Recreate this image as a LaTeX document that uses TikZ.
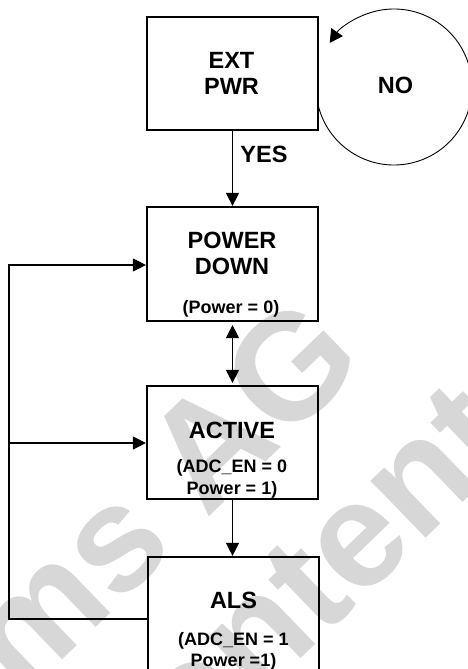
\documentclass[tikz,border=0pt]{standalone}
\usepackage{fontspec}
\setmainfont{Liberation Sans}
\usetikzlibrary{arrows.meta,calc}
\definecolor{wmgray}{RGB}{215,215,215}
\begin{document}
\begin{tikzpicture}[x=1pt,y=-1pt,
  box/.style={draw,line width=2.2pt,minimum width=171pt,minimum height=113pt,inner sep=0pt},
  maintxt/.style={inner sep=0pt,anchor=base,font=\fontsize{23.5}{28}\selectfont\bfseries},
  subtxt/.style={inner sep=0pt,anchor=base,font=\fontsize{18}{22}\selectfont\bfseries},
  wm/.style={inner sep=0pt,anchor=base,rotate=44,text=wmgray,font=\fontsize{150}{150}\selectfont\bfseries},
  tip/.tip={Triangle[length=13pt,width=13pt]},
  conn/.style={line width=1.1pt,-tip},
  biconn/.style={line width=1.1pt,tip-tip},
  loopline/.style={line width=0.9pt,-{Triangle[length=13pt,width=14pt]}}]
\useasboundingbox (0,0) rectangle (468,669);
\fill[white] (0,0) rectangle (468,669);
\clip (0,0) rectangle (468,669);
% watermark
\node[wm] (wm1) at (165,560.3) {ams AG};
\node[wm] (wm2) at (325.7,635.4) {content};
% boxes
\node[box] (ext) at (232.5,73.5) {};
\node[box,minimum height=114pt] (pd) at (232.5,264) {};
\node[box] (act) at (232.5,442.5) {};
\node[box,minimum height=114pt] (als) at (233.5,614) {};
% texts
\node[maintxt] (extA) at (231.5,68) {EXT};
\node[maintxt] (extB) at (231.5,94) {PWR};
\node[maintxt] (no) at (395.5,93) {NO};
\node[maintxt] (yes) at (264,162) {YES};
\node[maintxt] (pdA) at (232,248) {POWER};
\node[maintxt] (pdB) at (232,274.5) {DOWN};
\node[subtxt] (pdC) at (231,313) {(Power = 0)};
\node[maintxt] (actA) at (232,438) {ACTIVE};
\node[subtxt] (actB) at (232,472.3) {(ADC\_EN = 0};
\node[subtxt] (actC) at (232,494) {Power = 1)};
\node[maintxt] (alsA) at (233.5,608) {ALS};
\node[subtxt] (alsB) at (233.5,645.7) {(ADC\_EN = 1};
\node[subtxt] (alsC) at (233.5,666) {Power =1)};
% connectors
\draw[conn] (ext.south) -- (pd.north);
\draw[biconn,shorten <=3pt,shorten >=2pt] (pd.south) -- (act.north);
\draw[conn] (act.south) -- (act.south |- als.north);
\coordinate (fb1) at (9,265);
\coordinate (fb2) at (9,443);
\coordinate (fb3) at (9,619);
\draw[conn] (als.west |- fb3) -- (fb3) -- (fb1) -- (pd.west |- fb1);
\draw[conn] (fb2) -- (act.west |- fb2);
% NO loop
\coordinate (lc) at (394,87);
\draw[loopline] ($(lc)+(165.4:78)$) arc[start angle=165.4,end angle=-145.5,radius=78];
\end{tikzpicture}
\end{document}
